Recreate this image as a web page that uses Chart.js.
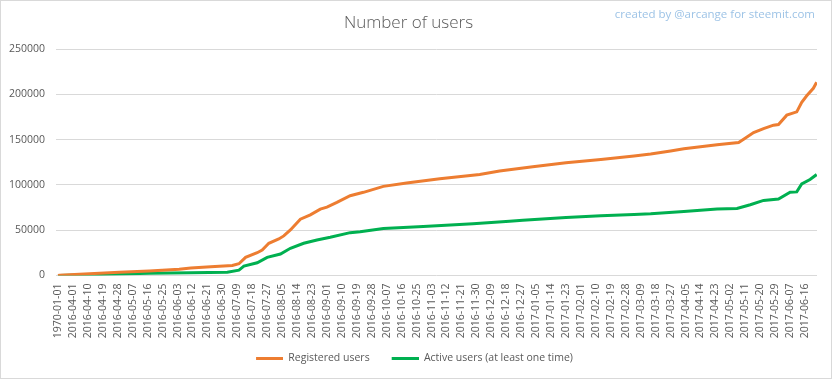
<!DOCTYPE html>
<html>
<head>
<meta charset="utf-8">
<script src="https://cdn.jsdelivr.net/npm/chart.js@4.4.1/dist/chart.umd.min.js"></script>
<style>
html,body{margin:0;padding:0;background:#fff;}
canvas{display:block;}
</style>
</head>
<body>
<canvas id="c" width="832" height="379"></canvas>
<script>
const titleText = 'Number of users';
const creditText = 'created by @arcange for steemit.com';
const seriesNames = ['Registered users', 'Active users (at least one time)'];

const tickLabels = ['1970-01-01','2016-04-01','2016-04-10','2016-04-19','2016-04-28','2016-05-07','2016-05-16','2016-05-25','2016-06-03','2016-06-12','2016-06-21','2016-06-30','2016-07-09','2016-07-18','2016-07-27','2016-08-05','2016-08-14','2016-08-23','2016-09-01','2016-09-10','2016-09-19','2016-09-28','2016-10-07','2016-10-16','2016-10-25','2016-11-03','2016-11-12','2016-11-21','2016-11-30','2016-12-09','2016-12-18','2016-12-27','2017-01-05','2017-01-14','2017-01-23','2017-02-01','2017-02-10','2017-02-19','2017-02-28','2017-03-09','2017-03-18','2017-03-27','2017-04-05','2017-04-14','2017-04-23','2017-05-02','2017-05-11','2017-05-20','2017-05-29','2017-06-07','2017-06-16'];

const regDates = ['1970-01-01','2016-03-24','2016-04-02','2016-04-29','2016-05-17','2016-06-04','2016-06-11','2016-06-23','2016-07-06','2016-07-10','2016-07-14','2016-07-21','2016-07-24','2016-07-28','2016-08-03','2016-08-06','2016-08-10','2016-08-16','2016-08-22','2016-08-28','2016-09-01','2016-09-07','2016-09-15','2016-09-23','2016-10-05','2016-10-19','2016-11-08','2016-12-02','2016-12-14','2017-01-03','2017-01-23','2017-02-13','2017-03-05','2017-03-15','2017-03-27','2017-04-04','2017-04-24','2017-05-07','2017-05-10','2017-05-16','2017-05-22','2017-05-28','2017-05-31','2017-06-05','2017-06-11','2017-06-14','2017-06-17','2017-06-21','2017-06-23'];
const registered = [0,300,1200,3700,5100,7000,8400,9600,11100,13000,20000,25100,28100,35600,40300,43700,50300,62200,67000,73300,75500,80700,88100,91800,98400,102200,106700,111400,115300,120000,124400,128100,132000,134000,137500,140000,144400,146700,150300,157800,162200,165900,166700,177000,180600,191100,198400,206600,213300];

const actDates = ['1970-01-01','2016-03-24','2016-05-17','2016-06-11','2016-07-03','2016-07-10','2016-07-13','2016-07-21','2016-07-27','2016-08-04','2016-08-10','2016-08-18','2016-08-26','2016-09-03','2016-09-15','2016-09-21','2016-10-05','2016-10-29','2016-11-28','2016-12-20','2016-12-28','2017-01-23','2017-02-13','2017-03-05','2017-03-15','2017-04-04','2017-04-24','2017-05-06','2017-05-14','2017-05-22','2017-05-31','2017-06-07','2017-06-11','2017-06-14','2017-06-19','2017-06-23'];
const active = [0,0,2400,2900,3700,5900,10300,14000,20000,23700,30000,35600,39200,42200,47300,48400,51800,54000,57000,59800,61000,64000,65900,67300,68100,70700,73300,74000,78100,82900,84400,92000,92300,101000,105900,111400];

const yTicks = [0, 50000, 100000, 150000, 200000, 250000];

// category position of a date on the daily axis (1970-01-01 is the first slot)
function dayIndex(d) {
  if (d === '1970-01-01') return 0;
  return 1 + Math.round((Date.parse(d) - Date.parse('2016-03-24')) / 86400000);
}

function legendLine(color) {
  const cv = document.createElement('canvas');
  cv.width = 39; cv.height = 3;
  const g = cv.getContext('2d');
  g.fillStyle = color;
  g.fillRect(12, 0, 27, 3);
  return cv;
}

const ORANGE = '#ED7D31', GREEN = '#00B050';
const FONT = '"Open Sans", "Noto Sans", sans-serif';

const frame = {
  id: 'frame',
  beforeDraw(chart) {
    const ctx = chart.ctx;
    ctx.save();
    ctx.fillStyle = '#fff';
    ctx.fillRect(0, 0, chart.width, chart.height);
    ctx.strokeStyle = '#d9d9d9';
    ctx.lineWidth = 1;
    ctx.strokeRect(0.5, 0.5, chart.width - 1, chart.height - 1);
    ctx.restore();
  },
  afterDraw(chart) {
    const ctx = chart.ctx;
    ctx.save();
    ctx.font = '11.5px ' + FONT;
    ctx.fillStyle = '#9DC3E6';
    ctx.textAlign = 'right';
    ctx.textBaseline = 'middle';
    ctx.fillText(creditText, 815, 15);
    ctx.restore();
  }
};

new Chart(document.getElementById('c'), {
  type: 'line',
  data: {
    datasets: [
      {
        label: seriesNames[0],
        data: regDates.map((d, i) => ({x: dayIndex(d), y: registered[i]})),
        borderColor: ORANGE, backgroundColor: ORANGE,
        borderWidth: 3, pointRadius: 0, tension: 0,
        pointStyle: legendLine(ORANGE)
      },
      {
        label: seriesNames[1],
        data: actDates.map((d, i) => ({x: dayIndex(d), y: active[i]})),
        borderColor: GREEN, backgroundColor: GREEN,
        borderWidth: 3, pointRadius: 0, tension: 0,
        pointStyle: legendLine(GREEN)
      }
    ]
  },
  options: {
    responsive: false,
    animation: false,
    layout: {padding: {left: 0, right: 15, top: 0, bottom: 5.5}},
    plugins: {
      title: {
        display: true, text: titleText, color: '#595959',
        font: {family: FONT, size: 17, weight: 300, lineHeight: 1.2},
        padding: {top: 13, bottom: 15.6}
      },
      legend: {
        position: 'bottom',
        labels: {
          usePointStyle: true, pointStyleWidth: 39,
          color: '#595959', padding: 10,
          font: {family: FONT, size: 10.5}
        }
      },
      tooltip: {enabled: false}
    },
    scales: {
      x: {
        type: 'linear', min: -1.2, max: 457.2,
        grid: {display: false, drawTicks: true, tickLength: 8},
        border: {display: false},
        afterBuildTicks: s => { s.ticks = tickLabels.map(l => ({value: dayIndex(l)})); },
        afterFit: s => { s.height = 67.5; },
        ticks: {
          autoSkip: false, minRotation: 90, maxRotation: 90, padding: 0,
          color: '#595959', font: {family: FONT, size: 10.5},
          callback: (v, i) => tickLabels[i]
        }
      },
      y: {
        min: 0, max: 250000,
        afterBuildTicks: s => { s.ticks = yTicks.map(v => ({value: v})); },
        afterFit: s => { s.width = 56; },
        grid: {color: '#d9d9d9', lineWidth: 1, drawTicks: false},
        border: {display: false},
        ticks: {padding: 11, color: '#595959', font: {family: FONT, size: 10.5}, callback: v => String(v)}
      }
    }
  },
  plugins: [frame]
});
</script>
</body>
</html>
